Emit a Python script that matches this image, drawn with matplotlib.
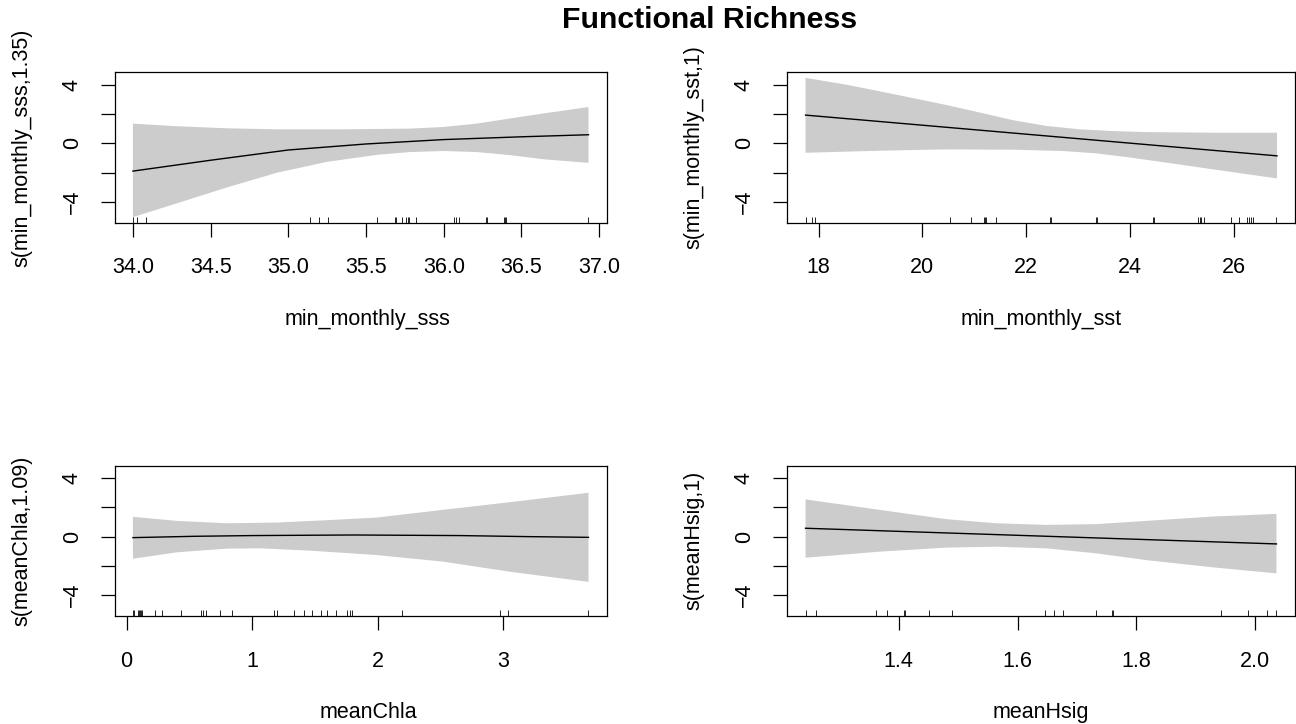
import numpy as np
import matplotlib
matplotlib.use("Agg")
import matplotlib.pyplot as plt

plt.rcParams['font.family'] = ['Liberation Sans', 'DejaVu Sans']

W, H = 1296, 724

title = "Functional Richness"

# ---------------- data ----------------
# Panel 1: min_monthly_sss
sss_fit_x = [34.00, 34.499, 35.00, 35.499, 35.998, 36.499, 36.931]
sss_fit_y = [-1.90, -1.16, -0.46, -0.05, 0.25, 0.44, 0.58]
sss_up_x = [34.00, 34.285, 34.606, 34.927, 35.355, 35.783, 35.998, 36.212, 36.426, 36.640, 36.931]
sss_up_y = [1.34, 1.16, 1.02, 0.95, 0.95, 1.00, 1.11, 1.34, 1.69, 2.03, 2.47]
sss_lo_x = [34.00, 34.285, 34.606, 34.927, 35.248, 35.570, 35.783, 35.998, 36.212, 36.426, 36.640, 36.931]
sss_lo_y = [-5.04, -4.09, -3.01, -2.01, -1.27, -0.79, -0.60, -0.53, -0.60, -0.81, -1.09, -1.34]
sss_rug = [34.00, 34.028, 34.086, 35.137, 35.195, 35.255, 35.570, 35.683, 35.692, 35.732,
           35.758, 35.767, 35.777, 35.820, 36.069, 36.077, 36.098, 36.272, 36.280, 36.390,
           36.396, 36.400, 36.931]

# Panel 2: min_monthly_sst
sst_fit_x = [17.75, 22.29, 26.83]
sst_fit_y = [1.92, 0.53, -0.86]
sst_up_x = [17.75, 18.53, 19.18, 19.82, 20.46, 21.10, 21.75, 22.39, 23.03, 23.67, 24.32, 24.96, 25.60, 26.83]
sst_up_y = [4.46, 4.00, 3.54, 3.08, 2.61, 2.10, 1.57, 1.18, 0.95, 0.83, 0.76, 0.74, 0.72, 0.72]
sst_lo_x = [17.75, 19.18, 20.46, 21.75, 22.71, 23.35, 23.99, 24.64, 25.60, 26.83]
sst_lo_y = [-0.65, -0.51, -0.42, -0.44, -0.53, -0.69, -0.97, -1.29, -1.78, -2.40]
sst_rug = [17.75, 17.87, 17.94, 20.54, 20.94, 21.19, 21.21, 21.23, 21.42, 22.45, 22.47,
           23.34, 23.36, 24.45, 24.47, 25.30, 25.34, 25.37, 25.42, 25.95, 26.09, 26.26,
           26.29, 26.32, 26.36, 26.82]

# Panel 3: meanChla
chla_fit_x = [0.050, 0.536, 1.000, 1.809, 2.658, 3.188, 3.682]
chla_fit_y = [-0.07, 0.02, 0.07, 0.11, 0.07, 0.00, -0.05]
chla_up_x = [0.050, 0.403, 0.801, 1.199, 1.597, 1.995, 2.525, 3.056, 3.682]
chla_up_y = [1.35, 1.07, 0.91, 0.96, 1.12, 1.30, 1.83, 2.35, 2.99]
chla_lo_x = [0.050, 0.403, 0.801, 1.066, 1.464, 1.995, 2.525, 3.056, 3.682]
chla_lo_y = [-1.51, -1.07, -0.82, -0.80, -0.96, -1.26, -1.71, -2.40, -3.09]
chla_rug = [0.050, 0.058, 0.090, 0.098, 0.106, 0.117, 0.125, 0.225, 0.279, 0.435, 0.594,
            0.610, 0.629, 0.748, 0.836, 1.178, 1.199, 1.332, 1.416, 1.477, 1.546, 1.597,
            1.668, 1.756, 1.777, 1.796, 2.194, 2.976, 3.040, 3.682]

# Panel 4: meanHsig
hsig_fit_x = [1.243, 2.036]
hsig_fit_y = [0.57, -0.50]
hsig_up_x = [1.243, 1.367, 1.480, 1.564, 1.648, 1.732, 1.816, 1.929, 2.036]
hsig_up_y = [2.54, 1.83, 1.19, 0.91, 0.80, 0.85, 1.07, 1.37, 1.55]
hsig_lo_x = [1.243, 1.367, 1.480, 1.564, 1.648, 1.732, 1.816, 1.929, 2.036]
hsig_lo_y = [-1.44, -1.03, -0.75, -0.69, -0.80, -1.14, -1.60, -2.10, -2.51]
hsig_rug = [1.243, 1.261, 1.361, 1.380, 1.408, 1.411, 1.451, 1.490, 1.647, 1.661, 1.676,
            1.732, 1.759, 1.761, 1.943, 1.988, 2.020, 2.036]

x_labels = ["min_monthly_sss", "min_monthly_sst", "meanChla", "meanHsig"]
y_labels = ["s(min_monthly_sss,1.35)", "s(min_monthly_sst,1)", "s(meanChla,1.09)", "s(meanHsig,1)"]
x_ticks = [[34.0, 34.5, 35.0, 35.5, 36.0, 36.5, 37.0],
           [18, 20, 22, 24, 26],
           [0, 1, 2, 3],
           [1.4, 1.6, 1.8, 2.0]]
x_ticklabels = [["34.0", "34.5", "35.0", "35.5", "36.0", "36.5", "37.0"],
                ["18", "20", "22", "24", "26"],
                ["0", "1", "2", "3"],
                ["1.4", "1.6", "1.8", "2.0"]]
y_ticks = [-4, -2, 0, 2, 4]
y_ticklabels = ["\u22124", "", "0", "", "4"]

panels = [
    (sss_fit_x, sss_fit_y, sss_up_x, sss_up_y, sss_lo_x, sss_lo_y, sss_rug),
    (sst_fit_x, sst_fit_y, sst_up_x, sst_up_y, sst_lo_x, sst_lo_y, sst_rug),
    (chla_fit_x, chla_fit_y, chla_up_x, chla_up_y, chla_lo_x, chla_lo_y, chla_rug),
    (hsig_fit_x, hsig_fit_y, hsig_up_x, hsig_up_y, hsig_lo_x, hsig_lo_y, hsig_rug),
]

# ---------------- layout (pixels) ----------------
boxes = [(114.7, 606.7, 72.3, 222.7),
         (786.7, 1295.3, 72.3, 222.7),
         (114.7, 606.7, 465.7, 616.0),
         (786.7, 1295.3, 465.7, 616.0)]
xlabel_cx = [368, 1041, 368, 1041]

fig = plt.figure(figsize=(W / 100, H / 100), dpi=100)
fig.patch.set_facecolor('white')

# shared y range (R style: range of all bands, expanded 4%)
all_lo = min(min(p[5]) for p in panels)
all_hi = max(max(p[3]) for p in panels)
yr = all_hi - all_lo
ylim = (all_lo - 0.04 * yr, all_hi + 0.04 * yr)

FS = 15.5
for i, (fx, fy, ux, uy, lx, ly, rug) in enumerate(panels):
    l, r, t, b = boxes[i]
    ax = fig.add_axes([l / W, 1 - b / H, (r - l) / W, (b - t) / H])
    # band polygon
    px = list(ux) + list(lx)[::-1]
    py = list(uy) + list(ly)[::-1]
    ax.fill(px, py, color='#CCCCCC', lw=0, zorder=1)
    ax.plot(fx, fy, color='black', lw=1.0, zorder=3)
    ax.vlines(rug, 0, 0.04, transform=ax.get_xaxis_transform(), color='black', lw=0.6, zorder=2)
    xr = max(rug) - min(rug)
    ax.set_xlim(min(rug) - 0.04 * xr, max(rug) + 0.04 * xr)
    ax.set_ylim(*ylim)
    ax.set_xticks(x_ticks[i])
    ax.set_xticklabels(x_ticklabels[i])
    ax.set_yticks(y_ticks)
    ax.set_yticklabels(y_ticklabels, rotation=90, va='center')
    ax.tick_params(axis='x', direction='out', length=10, width=0.9, labelsize=FS, pad=15)
    ax.tick_params(axis='y', direction='out', length=10, width=0.9, labelsize=FS, pad=13)
    for s in ax.spines.values():
        s.set_linewidth(0.9)
        s.set_color('black')
    ax.set_xlabel(x_labels[i], fontsize=FS)
    ax.xaxis.set_label_coords(xlabel_cx[i] / W, 1 - (b + 86) / H, transform=fig.transFigure)
    ax.set_ylabel(y_labels[i], fontsize=FS)
    ax.yaxis.set_label_coords((l - 82) / W, 1 - ((t + b) / 2) / H, transform=fig.transFigure)

fig.text(710 / W, 1 - 20 / H, title, ha='center', va='center', fontsize=21.8, fontweight='bold')

fig.savefig("out.png", dpi=100)
